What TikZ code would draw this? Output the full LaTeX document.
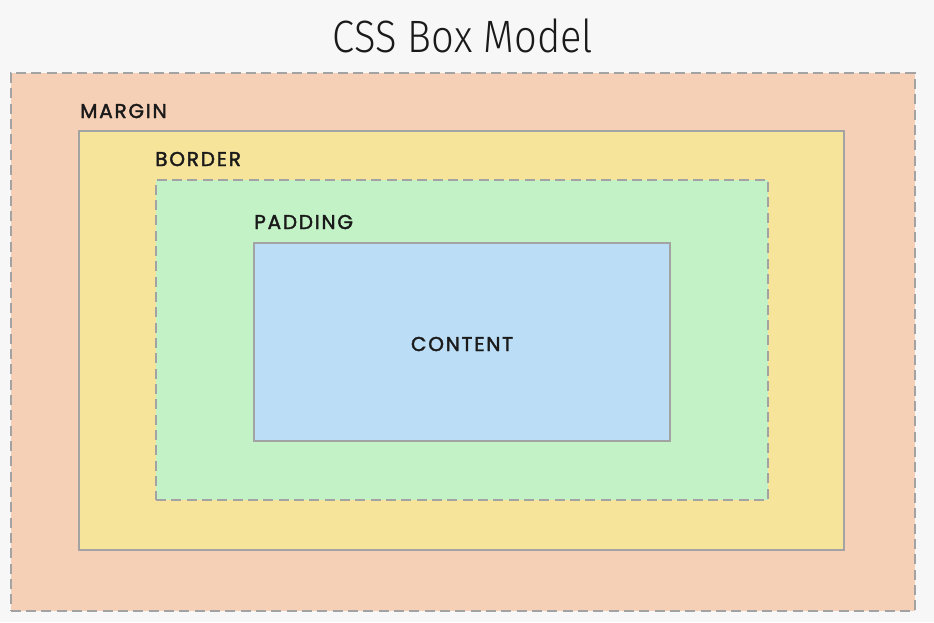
\documentclass[tikz,border=0pt]{standalone}
\usepackage{fontspec}
\setmainfont{Liberation Sans}
\newfontfamily\titlefont{Fira Sans Light}
\newfontfamily\labelfont[LetterSpace=9, FakeBold=2]{Poppins}
\definecolor{bgc}{HTML}{F7F7F7}
\definecolor{marginc}{HTML}{F5CFB6}
\definecolor{borderc}{HTML}{F6E49B}
\definecolor{paddingc}{HTML}{C3F2C6}
\definecolor{contentc}{HTML}{BBDDF5}
\definecolor{linec}{HTML}{A3A3A3}
\definecolor{textc}{HTML}{1A1A1A}
\begin{document}
\begin{tikzpicture}[x=0.75pt,y=-0.75pt,
  layer/.style={inner sep=0pt, outer sep=0pt, draw=linec, line width=1.5pt},
  dashedlayer/.style={layer, dash pattern=on 7.5pt off 4pt},
  solidlayer/.style={layer, line width=0.8pt},
  lbl/.style={font=\labelfont\fontsize{15}{17}\selectfont, text=textc, inner sep=0pt, anchor=base west}]
\fill[bgc] (0,0) rectangle (934,622);
\useasboundingbox (0,0) rectangle (934,622);
\node[font=\titlefont\fontsize{34}{38}\selectfont, text=textc, anchor=base, xscale=0.88] (title) at (463,52) {CSS Box Model};
\node[dashedlayer, fill=marginc, minimum width=678pt, minimum height=403.5pt] (margin) at (462.5,342) {};
\node[solidlayer, fill=borderc, minimum width=573.75pt, minimum height=314.25pt] (border) at (461.5,340.5) {};
\node[dashedlayer, fill=paddingc, minimum width=459pt, minimum height=240pt] (padding) at (462,340) {};
\node[solidlayer, fill=contentc, minimum width=312pt, minimum height=148.5pt] (content) at (462,342) {};
\node[lbl] (marginlbl) at (80,118) {MARGIN};
\node[lbl] (borderlbl) at (155,166) {BORDER};
\node[lbl] (paddinglbl) at (254,229) {PADDING};
\node[lbl, anchor=base] (contentlbl) at (462,351) {CONTENT};
\end{tikzpicture}
\end{document}
